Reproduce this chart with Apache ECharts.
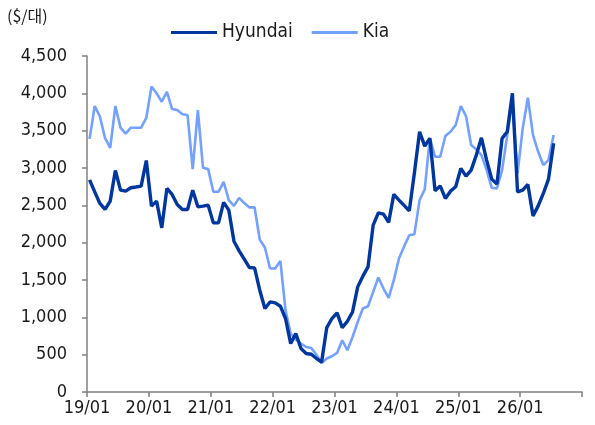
<!DOCTYPE html>
<html>
<head>
<meta charset="utf-8">
<script src="https://cdn.jsdelivr.net/npm/echarts@6/dist/echarts.min.js"></script>
<style>
  html, body { margin: 0; padding: 0; background: #fff; }
  #chart { width: 595px; height: 425px; }
</style>
</head>
<body>
<div id="chart"></div>
<script>
// monthly, 19/01 .. 26/12 (data runs to 26/07)
var years = ['19', '20', '21', '22', '23', '24', '25', '26'];
var months = ['01', '02', '03', '04', '05', '06', '07', '08', '09', '10', '11', '12'];
var categories = [];
years.forEach(function (y) {
  months.forEach(function (m) { categories.push(y + '/' + m); });
});

var hyundai = [
  2840, 2680, 2525, 2445, 2556, 2967, 2703, 2690, 2735, 2745, 2757, 3100,
  2489, 2556, 2198, 2727, 2646, 2512, 2445, 2445, 2703, 2480, 2490, 2503,
  2265, 2265, 2539, 2436, 2020, 1890, 1780, 1667, 1662, 1363, 1118, 1206,
  1193, 1149, 984, 649, 783, 582, 515, 505, 448, 402, 863, 984,
  1059, 863, 948, 1072, 1408, 1551, 1676, 2235, 2400, 2382, 2271, 2646,
  2570, 2500, 2426, 2936, 3485, 3294, 3397, 2694, 2761, 2592, 2690, 2748,
  2995, 2891, 2972, 3173, 3405, 3106, 2851, 2784, 3397, 3485, 4000, 2681,
  2703, 2780, 2359, 2493, 2659, 2851, 3330
];

var kia = [
  3390, 3830, 3690, 3400, 3270, 3830, 3540, 3460, 3540, 3540, 3540, 3670,
  4090, 4000, 3888, 4020, 3790, 3776, 3719, 3709, 2985, 3776, 3003, 2985,
  2681, 2681, 2815, 2570, 2493, 2600, 2530, 2472, 2472, 2043, 1936, 1654,
  1654, 1756, 1095, 783, 702, 649, 603, 590, 500, 389, 448, 479,
  523, 693, 559, 737, 938, 1118, 1149, 1341, 1534, 1386, 1260, 1497,
  1788, 1950, 2100, 2114, 2570, 2713, 3405, 3150, 3150, 3428, 3485, 3575,
  3830, 3696, 3307, 3249, 3173, 2972, 2735, 2726, 2972, 3441, 3900, 2928,
  3531, 3941, 3441, 3217, 3039, 3106, 3441
];

var yTicks = { min: 0, max: 4500, step: 500 };

var font = "'Liberation Sans Narrow', 'DejaVu Sans Condensed', sans-serif";
var axisGray = '#808080';

var chart = echarts.init(document.getElementById('chart'));
var option = {
  backgroundColor: '#fff',
  animation: false,
  graphic: [{
    type: 'text',
    left: 7,
    top: 8,
    style: {
      text: '($/대)',
      fontSize: 16,
      fontFamily: "'Liberation Sans Narrow', 'Noto Sans CJK KR', sans-serif",
      fill: '#1a1a1a'
    }
  }],
  legend: {
    data: ['Hyundai', 'Kia'],
    left: 166,
    top: 18,
    icon: 'rect',
    itemWidth: 46,
    itemHeight: 3,
    itemGap: 19,
    textStyle: { fontSize: 19, fontFamily: font, color: '#1a1a1a' }
  },
  grid: { left: 87, right: 13, top: 56, bottom: 33 },
  xAxis: {
    type: 'category',
    data: categories,
    boundaryGap: true,
    axisLine: { lineStyle: { color: axisGray, width: 1.5 } },
    axisTick: { show: true, interval: 11, length: 5, lineStyle: { color: axisGray, width: 1.5 } },
    axisLabel: {
      interval: 11,
      margin: 7,
      padding: [0, 5, 0, 0],
      fontSize: 18,
      fontFamily: font,
      color: '#1a1a1a'
    },
    splitLine: { show: false }
  },
  yAxis: {
    type: 'value',
    min: yTicks.min,
    max: yTicks.max,
    interval: yTicks.step,
    axisLine: { show: true, lineStyle: { color: axisGray, width: 1.5 } },
    axisTick: { show: true, length: 5, lineStyle: { color: axisGray, width: 1.5 } },
    axisLabel: {
      margin: 20,
      fontSize: 18,
      fontFamily: font,
      color: '#1a1a1a',
      formatter: function (v) { return v.toLocaleString('en-US'); }
    },
    splitLine: { show: false }
  },
  series: [
    {
      name: 'Kia',
      type: 'line',
      data: kia,
      showSymbol: false,
      color: '#74a0ff',
      lineStyle: { width: 2.6, color: '#74a0ff' }
    },
    {
      name: 'Hyundai',
      type: 'line',
      data: hyundai,
      showSymbol: false,
      color: '#00379f',
      lineStyle: { width: 3.4, color: '#00379f' }
    }
  ]
};
chart.setOption(option);
</script>
</body>
</html>
